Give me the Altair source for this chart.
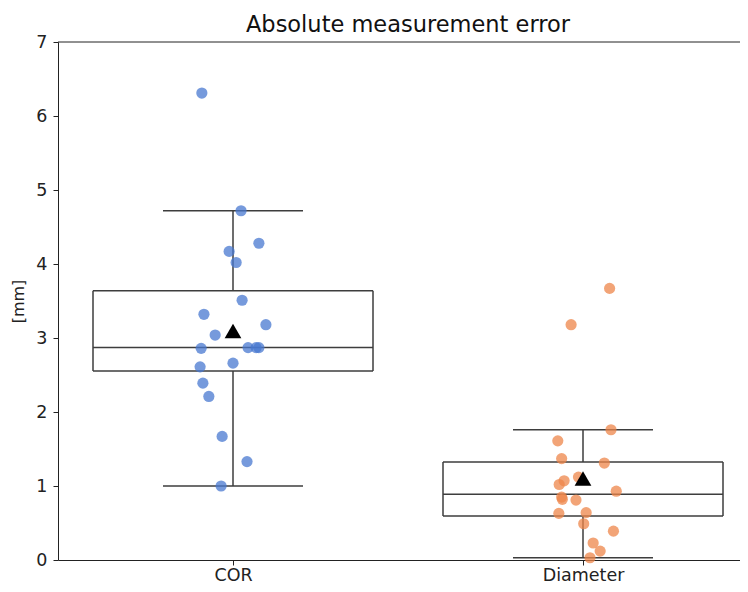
import altair as alt
import numpy as np
import pandas as pd

categories = ["COR", "Diameter"]
cor_values = [6.31, 4.72, 4.28, 4.17, 4.02, 3.51, 3.32, 3.18, 3.04, 2.86,
              2.87, 2.87, 2.87, 2.66, 2.61, 2.39, 2.21, 1.67, 1.33, 1.00]
cor_jitter = [-0.089, 0.023, 0.074, -0.011, 0.009, 0.026, -0.083, 0.094, -0.051, -0.091,
              0.043, 0.066, 0.074, 0.000, -0.094, -0.086, -0.069, -0.031, 0.040, -0.034]
dia_values = [3.67, 3.18, 1.76, 1.61, 1.37, 1.31, 1.12, 1.07, 1.02, 0.93,
              0.85, 0.82, 0.81, 0.64, 0.63, 0.49, 0.39, 0.23, 0.12, 0.03]
dia_jitter = [0.076, -0.034, 0.080, -0.072, -0.061, 0.061, -0.013, -0.054, -0.068, 0.095,
              -0.061, -0.059, -0.020, 0.009, -0.069, 0.002, 0.087, 0.029, 0.049, 0.020]
colors = ["#4878d0", "#ee854a"]
y_ticks = [0, 1, 2, 3, 4, 5, 6, 7]

series = [cor_values, dia_values]
jitters = [cor_jitter, dia_jitter]

pts = pd.DataFrame({
    "cat": [c for c, v in zip(categories, series) for _ in v],
    "pos": [i + j for i, js in enumerate(jitters) for j in js],
    "value": [x for v in series for x in v],
})

segs = []
means = []
for i, (c, v) in enumerate(zip(categories, series)):
    a = np.array(v)
    q1, med, q3 = np.percentile(a, [25, 50, 75])
    iqr = q3 - q1
    lo = a[a >= q1 - 1.5 * iqr].min()
    hi = a[a <= q3 + 1.5 * iqr].max()
    segs += [
        dict(x=i - 0.4, x2=i + 0.4, y=q1, y2=q1),
        dict(x=i - 0.4, x2=i + 0.4, y=q3, y2=q3),
        dict(x=i - 0.4, x2=i - 0.4, y=q1, y2=q3),
        dict(x=i + 0.4, x2=i + 0.4, y=q1, y2=q3),
        dict(x=i - 0.4, x2=i + 0.4, y=med, y2=med),
        dict(x=i, x2=i, y=q3, y2=hi),
        dict(x=i, x2=i, y=q1, y2=lo),
        dict(x=i - 0.2, x2=i + 0.2, y=hi, y2=hi),
        dict(x=i - 0.2, x2=i + 0.2, y=lo, y2=lo),
    ]
    means.append(dict(pos=i, mean=a.mean()))
segs = pd.DataFrame(segs)
means = pd.DataFrame(means)

W, H = 682, 518
xscale = alt.Scale(domain=[-0.5, -0.5 + W / 350], nice=False, zero=False)
yscale = alt.Scale(domain=[0, 7], nice=False)

xaxis = alt.Axis(values=[0, 1], labelExpr="datum.value == 0 ? 'COR' : 'Diameter'",
                 grid=False, title=None, tickSize=5, labelPadding=1, labelFontSize=17.5,
                 domainColor="#222222", tickColor="#222222", labelColor="#222222",
                 labelFont="DejaVu Sans")
yaxis = alt.Axis(values=y_ticks, grid=False, title="[mm]", tickSize=5, labelPadding=6,
                 labelFontSize=17.5, titleFontSize=16, titleFontWeight="normal",
                 titlePadding=9, domainColor="#222222", tickColor="#222222",
                 labelColor="#222222", titleColor="#222222", labelFont="DejaVu Sans",
                 titleFont="DejaVu Sans", format="d")

lines = alt.Chart(segs).mark_rule(color="#3d3d3d", strokeWidth=1.5).encode(
    x=alt.X("x:Q", scale=xscale, axis=xaxis),
    x2="x2:Q",
    y=alt.Y("y:Q", scale=yscale, axis=yaxis),
    y2="y2:Q",
)

points = alt.Chart(pts).mark_circle(size=125, opacity=0.75).encode(
    x=alt.X("pos:Q", scale=xscale),
    y=alt.Y("value:Q", scale=yscale),
    color=alt.Color("cat:N", scale=alt.Scale(domain=categories, range=colors), legend=None),
)

mean_marks = alt.Chart(means).mark_point(shape="triangle-up", filled=True, size=280,
                                         color="black", opacity=1).encode(
    x=alt.X("pos:Q", scale=xscale),
    y=alt.Y("mean:Q", scale=yscale),
)

top_spine = alt.Chart(pd.DataFrame({"t": [7]})).mark_rule(color="#222222", strokeWidth=1).encode(
    y=alt.Y("t:Q", scale=yscale),
    x=alt.value(0),
    x2=alt.value(W),
)

chart = alt.layer(lines, points, mean_marks, top_spine).properties(
    width=W, height=H,
    title=alt.TitleParams("Absolute measurement error", fontSize=22.5, font="DejaVu Sans",
                          fontWeight="normal", color="#111111", offset=2, anchor="middle",
                          dx=9, dy=5),
    autosize=alt.AutoSizeParams(type="none"),
    padding={"left": 50, "top": 34, "right": 0, "bottom": 23},
).configure_view(stroke=None)

chart.save("out.html", embed_options={"renderer": "svg", "actions": False})
